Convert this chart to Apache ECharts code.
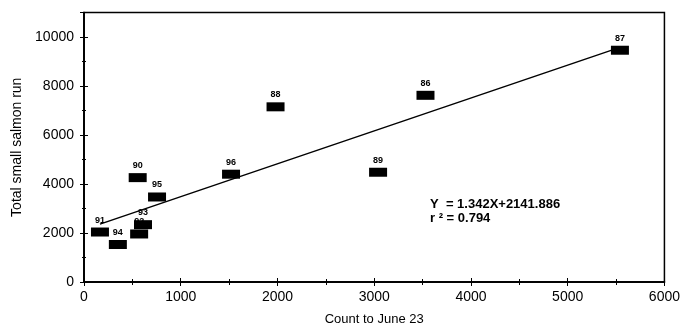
<!DOCTYPE html>
<html>
<head>
<meta charset="utf-8">
<script src="https://cdn.jsdelivr.net/npm/echarts@6/dist/echarts.min.js"></script>
<style>
  html, body { margin: 0; padding: 0; background: #fff; }
  #chart { width: 683px; height: 331px; }
</style>
</head>
<body>
<div id="chart"></div>
<script>
// Year labels (19xx) with early count and total run for each season
const years = ['91', '94', '90', '92', '93', '95', '96', '88', '89', '86', '87'];
const countToJune23 = [165, 350, 555, 570, 610, 755, 1520, 1980, 3040, 3530, 5540];
const totalRun = [2040, 1530, 4260, 1960, 2340, 3470, 4400, 7150, 4480, 7620, 9460];

// Fitted regression
const slope = 1.342;
const intercept = 2141.886;
const rSquared = 0.794;

const xMin = Math.min(...countToJune23);
const xMax = Math.max(...countToJune23);
const fitLine = [[xMin, slope * xMin + intercept], [xMax, slope * xMax + intercept]];

const font = 'Liberation Sans, Arial, sans-serif';
const chart = echarts.init(document.getElementById('chart'), null, { renderer: 'canvas' });

const baseX = {
  type: 'value', min: 0, max: 6000, interval: 1000,
  axisLine: { show: true, onZero: false, lineStyle: { color: '#000', width: 1.5 } },
  splitLine: { show: false }
};
const baseY = {
  type: 'value', min: 0, max: 11000, interval: 2000,
  axisLine: { show: true, onZero: false, lineStyle: { color: '#000', width: 1.5 } },
  splitLine: { show: false }
};

// One series per season so later markers sit over earlier labels
const pointSeries = years.map((yr, i) => ({
  type: 'scatter',
  name: yr,
  data: [{ value: [countToJune23[i], totalRun[i]], name: yr }],
  symbol: 'rect', symbolSize: [18, 9],
  itemStyle: { color: '#000', opacity: 1 },
  z: 3 + i,
  label: {
    show: true, position: 'top', distance: 3, formatter: p => p.name,
    color: '#000', fontSize: 9, fontWeight: 'bold', fontFamily: font
  }
}));

chart.setOption({
  animation: false,
  backgroundColor: '#fff',
  grid: {
    left: 84, right: 17, top: 12.5, bottom: 48,
    show: true, borderColor: '#000', borderWidth: 1.5, backgroundColor: 'transparent'
  },
  xAxis: [
    Object.assign({}, baseX, {
      name: 'Count to June 23', nameLocation: 'middle', nameGap: 31,
      nameTextStyle: { color: '#000', fontSize: 13, fontFamily: font, verticalAlign: 'top' },
      axisTick: { show: true, inside: false, length: 4, lineStyle: { color: '#000' } },
      minorTick: { show: true, splitNumber: 2, length: 3, lineStyle: { color: '#000' } },
      axisLabel: { color: '#000', fontSize: 14, fontFamily: font, margin: 8,
        formatter: v => String(v) }
    }),
    Object.assign({}, baseX, {
      position: 'bottom',
      axisTick: { show: true, inside: true, length: 4, lineStyle: { color: '#000' } },
      minorTick: { show: true, splitNumber: 2, length: 3, lineStyle: { color: '#000' } },
      axisLabel: { show: false }
    })
  ],
  yAxis: [
    Object.assign({}, baseY, {
      name: 'Total small salmon run', nameLocation: 'middle', nameGap: 52,
      nameTextStyle: { color: '#000', fontSize: 14, fontFamily: font },
      axisTick: { show: true, inside: false, length: 4, lineStyle: { color: '#000' } },
      minorTick: { show: true, splitNumber: 2, length: 2, lineStyle: { color: '#000' } },
      axisLabel: { color: '#000', fontSize: 14, fontFamily: font, margin: 10,
        formatter: v => (v > 10000 ? '' : String(v)) }
    }),
    Object.assign({}, baseY, {
      position: 'left',
      axisTick: { show: true, inside: true, length: 4, lineStyle: { color: '#000' } },
      minorTick: { show: true, splitNumber: 2, length: 2, lineStyle: { color: '#000' } },
      axisLabel: { show: false }
    })
  ],
  graphic: [
    {
      type: 'text', left: 430, top: 198,
      style: { text: 'Y  = ' + slope + 'X+' + intercept, fill: '#000', font: 'bold 13px ' + font }
    },
    {
      type: 'text', left: 430, top: 212,
      style: { text: 'r ² = ' + rSquared, fill: '#000', font: 'bold 13px ' + font }
    }
  ],
  series: [
    {
      type: 'line', data: fitLine, showSymbol: false, symbol: 'none',
      lineStyle: { color: '#000', width: 1.5 }, z: 2, silent: true
    }
  ].concat(pointSeries)
});
</script>
</body>
</html>
